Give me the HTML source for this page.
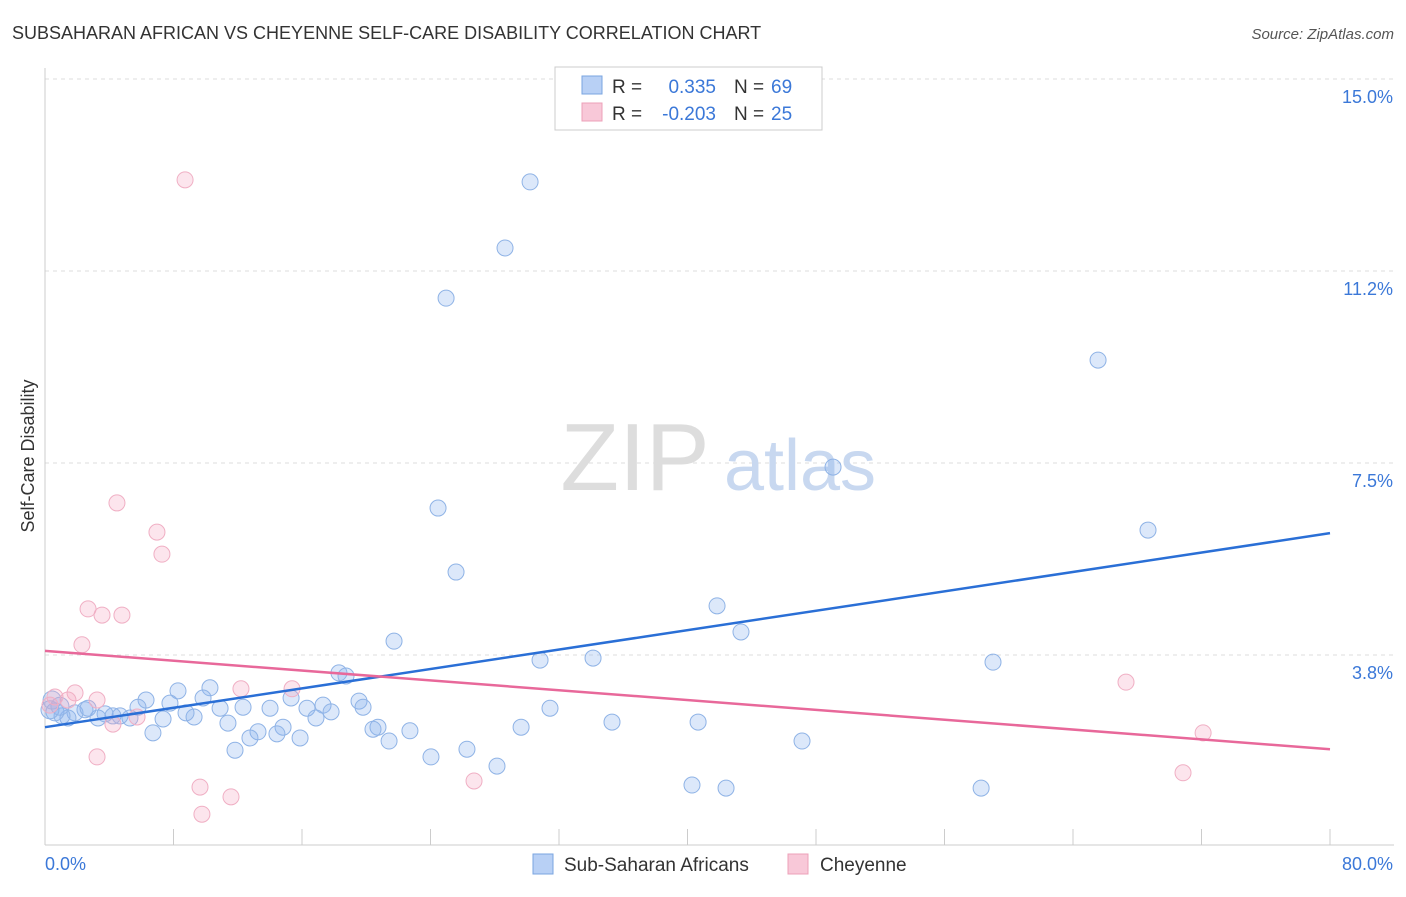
<!DOCTYPE html>
<html><head><meta charset="utf-8"><style>
body{margin:0;background:#fff;font-family:"Liberation Sans",sans-serif;}
svg text{font-family:"Liberation Sans",sans-serif;}
</style></head><body>
<svg id="chart" width="1406" height="892" xmlns="http://www.w3.org/2000/svg">
<text x="12" y="39" font-size="18" fill="#333">SUBSAHARAN AFRICAN VS CHEYENNE SELF-CARE DISABILITY CORRELATION CHART</text>
<text x="1394" y="39" font-size="15" fill="#555" text-anchor="end" font-style="italic">Source: ZipAtlas.com</text>
<g id="grid"></g>
<g><text x="635" y="490" font-size="96" fill="#ddd" text-anchor="middle" font-family="Liberation Serif">ZIP</text><text x="800" y="490" font-size="72" fill="#c8d8f0" text-anchor="middle">atlas</text></g>
<line x1="45" y1="68" x2="45" y2="845" stroke="#ccc"/>
<line x1="45" y1="845" x2="1394" y2="845" stroke="#ccc"/>
<text transform="translate(34,456) rotate(-90)" font-size="18" fill="#333" text-anchor="middle">Self-Care Disability</text>
<text x="45" y="870" font-size="18" fill="#3b78d8">0.0%</text>
<text x="1393" y="870" font-size="18" fill="#3b78d8" text-anchor="end">80.0%</text>
<g id="marks"></g>
<g>
<rect x="555" y="67" width="267" height="63" fill="#fff" stroke="#ccc"/>
<rect x="582" y="76" width="20" height="18" fill="#b8d0f5" stroke="#7aa5e0"/>
<text x="612" y="93" font-size="19" fill="#333">R =</text>
<text x="716" y="93" font-size="19" fill="#3b78d8" text-anchor="end">0.335</text>
<text x="734" y="93" font-size="19" fill="#333">N =</text>
<text x="771" y="93" font-size="19" fill="#3b78d8">69</text>
<rect x="582" y="103" width="20" height="18" fill="#f8c8d8" stroke="#eda0b8"/>
<text x="612" y="120" font-size="19" fill="#333">R =</text>
<text x="716" y="120" font-size="19" fill="#3b78d8" text-anchor="end">-0.203</text>
<text x="734" y="120" font-size="19" fill="#333">N =</text>
<text x="771" y="120" font-size="19" fill="#3b78d8">25</text>
</g>
<g>
<rect x="533" y="854" width="20" height="20" fill="#b8d0f5" stroke="#7aa5e0"/>
<text x="564" y="871" font-size="19" fill="#333">Sub-Saharan Africans</text>
<rect x="788" y="854" width="20" height="20" fill="#f8c8d8" stroke="#eda0b8"/>
<text x="820" y="871" font-size="19" fill="#333">Cheyenne</text>
</g>
</svg>
<script>
const yTicks=[3.75,7.5,11.25,15];
const yTickLabels=["3.8%","7.5%","11.2%","15.0%"];
const xTicks=[0,8,16,24,32,40,48,56,64,72,80];
const blueX=[30.2,28.64,24.97,65.56,49.06,24.47,68.67,25.59,41.84,43.33,21.73,30.82,34.12,59.02,18.3,18.74,19.55,19.8,31.44,35.3,40.66,29.64,22.72,20.73,20.42,21.42,26.27,24.03,28.14,47.13,40.28,42.4,58.28,8.28,10.27,6.29,7.78,9.84,15.32,17.31,16.31,17.81,16.87,14.01,12.33,10.9,9.28,8.78,7.35,5.79,5.29,4.67,3.74,4.23,3.3,2.49,1.87,1.43,1.06,0.62,0.31,0.44,0.93,2.68,11.39,14.82,13.26,14.44,15.88,12.76,11.83,6.72];
const blueY=[12.99,11.7,10.72,9.51,7.42,6.62,6.19,5.37,4.71,4.2,4.02,3.65,3.69,3.61,3.4,3.34,2.85,2.73,2.71,2.44,2.44,2.34,2.27,2.34,2.3,2.07,1.91,1.76,1.58,2.07,1.21,1.15,1.15,3.05,3.11,2.87,2.81,2.91,2.91,2.77,2.71,2.64,2.52,2.71,2.73,2.71,2.54,2.62,2.5,2.73,2.52,2.56,2.6,2.56,2.52,2.68,2.62,2.52,2.56,2.64,2.68,2.87,2.75,2.71,2.42,2.34,2.25,2.21,2.13,2.13,1.89,2.23];
const pinkX=[8.72,4.48,6.97,7.28,2.68,3.55,4.79,2.3,12.2,15.38,1.87,0.62,1.43,3.24,5.73,4.23,3.24,9.65,11.58,9.77,26.71,67.3,72.1,70.85,0.31];
const pinkY=[13.03,6.72,6.15,5.72,4.65,4.53,4.53,3.95,3.09,3.09,3.01,2.93,2.87,2.87,2.54,2.4,1.76,1.17,0.98,0.64,1.29,3.22,2.23,1.45,2.77];
const blueTrend=[2.34,6.13];
const pinkTrend=[3.83,1.91];
const NS="http://www.w3.org/2000/svg";
function xs(v){return 45+v/80*1285;}
function ys(v){return 847-v*51.2;}
const grid=document.getElementById('grid'),marks=document.getElementById('marks');
function mk(tag,attrs,parent){const e=document.createElementNS(NS,tag);for(const k in attrs)e.setAttribute(k,attrs[k]);parent.appendChild(e);return e;}
yTicks.forEach((t,i)=>{
 const l=mk('line',{x1:45,x2:1394,y1:ys(t),y2:ys(t),stroke:'#ddd','stroke-dasharray':'4,4'},grid);
 
 
 const tx=mk('text',{x:1393,y:ys(t)+24,'font-size':18,fill:'#3b78d8','text-anchor':'end'},grid);
 tx.textContent=yTickLabels[i];
 
 
});
xTicks.forEach(t=>{
 const l=mk('line',{x1:xs(t),x2:xs(t),y1:829,y2:845,stroke:'#ccc'},grid);
 
 
});
blueX.forEach((v,i)=>{
 const c=mk('circle',{cx:xs(v),cy:ys(blueY[i]),r:i>=59&&i<=62?9:8,fill:'rgba(140,180,240,0.3)',stroke:'#8fb3e6','stroke-width':1},marks);
 
 
});
pinkX.forEach((v,i)=>{
 const c=mk('circle',{cx:xs(v),cy:ys(pinkY[i]),r:8,fill:'rgba(245,170,195,0.3)',stroke:'#f0afc4','stroke-width':1},marks);
 
 
});
const bl=mk('line',{x1:xs(0),y1:ys(blueTrend[0]),x2:xs(80),y2:ys(blueTrend[1]),stroke:'#2a6fd6','stroke-width':2.5},marks);


const pl=mk('line',{x1:xs(0),y1:ys(pinkTrend[0]),x2:xs(80),y2:ys(pinkTrend[1]),stroke:'#e8689a','stroke-width':2.5},marks);


</script>
</body></html>
